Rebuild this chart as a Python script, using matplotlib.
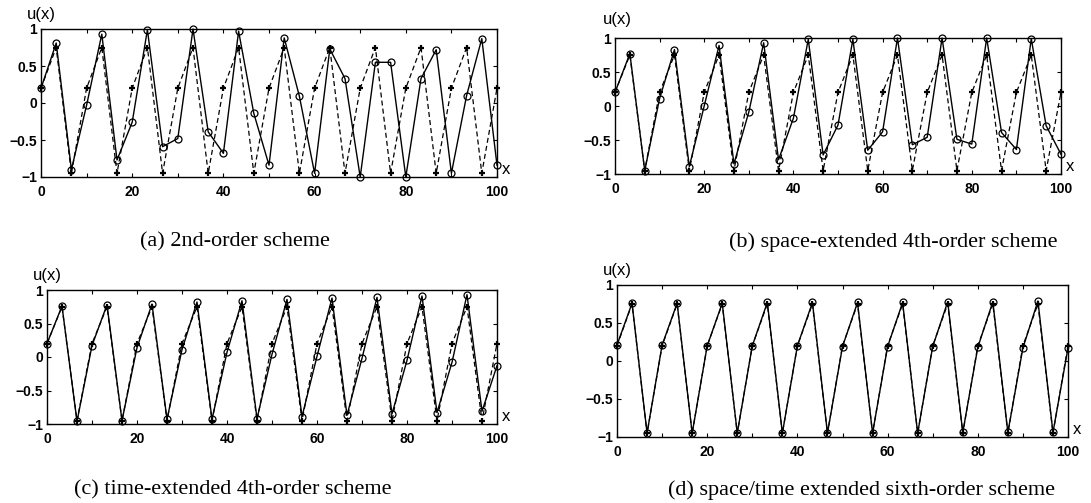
import numpy as np
import matplotlib
matplotlib.use("Agg")
import matplotlib.pyplot as plt
from matplotlib.ticker import MultipleLocator

# ---------------- data ----------------
x_nodes = np.linspace(0, 100, 31)
exact_pattern = [0.2, 0.75, -0.95]
u_exact = [exact_pattern[i % 3] for i in range(31)]

u_a = [0.2, 0.81, -0.9, -0.03, 0.93, -0.77, -0.26, 0.99, -0.59, -0.48,
       1.0, -0.39, -0.68, 0.97, -0.14, -0.84, 0.88, 0.09, -0.95, 0.73,
       0.33, -1.0, 0.55, 0.55, -1.0, 0.33, 0.72, -0.95, 0.1, 0.87, -0.84]
u_b = [0.2, 0.77, -0.95, 0.11, 0.83, -0.89, 0.0, 0.89, -0.85, -0.09,
       0.93, -0.79, -0.18, 0.98, -0.72, -0.28, 0.98, -0.65, -0.38, 1.0,
       -0.57, -0.46, 1.0, -0.49, -0.56, 1.0, -0.39, -0.64, 0.99, -0.29, -0.71]
u_c = [0.2, 0.76, -0.96, 0.17, 0.78, -0.95, 0.14, 0.79, -0.93, 0.11,
       0.82, -0.93, 0.07, 0.84, -0.92, 0.04, 0.86, -0.89, 0.01, 0.88,
       -0.87, -0.02, 0.89, -0.85, -0.05, 0.91, -0.83, -0.08, 0.93, -0.81, -0.13]
u_d = [0.21, 0.76, -0.95, 0.21, 0.76, -0.95, 0.2, 0.76, -0.95, 0.2,
       0.77, -0.95, 0.2, 0.77, -0.95, 0.19, 0.77, -0.95, 0.19, 0.77,
       -0.95, 0.19, 0.78, -0.94, 0.18, 0.78, -0.94, 0.17, 0.79, -0.94, 0.17]

captions = ["(a) 2nd-order scheme",
            "(b) space-extended 4th-order scheme",
            "(c) time-extended 4th-order scheme",
            "(d) space/time extended sixth-order scheme"]
series = [u_a, u_b, u_c, u_d]
xticks = [0, 20, 40, 60, 80, 100]
yticks = [-1, -0.5, 0, 0.5, 1]
ytick_labels = ["\u22121", "\u22120.5", "0", "0.5", "1"]

# ---------------- layout (pixels) ----------------
W, H = 1091, 503
boxes = [(41, 29, 497, 177), (615, 38, 1061, 174),
         (47, 290, 497, 424), (617, 285, 1068, 437)]
ulabel_pos = [(27, 22), (603, 27), (33, 283), (603, 278)]   # left, bottom px
cap_pos = [(235, 242), (893, 242), (233, 490), (862, 490)]

fig = plt.figure(figsize=(W / 100, H / 100), dpi=100)
tick_font = dict(family="Liberation Sans", weight="bold", size=10)

for k, (l, t, r, b) in enumerate(boxes):
    ax = fig.add_axes([l / W, 1 - b / H, (r - l) / W, (b - t) / H])
    ax.plot(x_nodes, u_exact, linestyle=(0, (4, 2.5)), color="black", lw=0.9,
            marker="+", ms=5, mew=1.6, zorder=2, clip_on=False)
    ax.plot(x_nodes, series[k], "-", color="black", lw=1.0,
            marker="o", ms=5, mfc="none", mec="black", mew=0.9, zorder=3,
            clip_on=False)
    ax.set_xlim(0, 100)
    ax.set_ylim(-1, 1)
    ax.set_xticks(xticks)
    ax.xaxis.set_minor_locator(MultipleLocator(10))
    ax.set_yticks(yticks)
    ax.set_xticklabels([str(v) for v in xticks], fontdict=tick_font)
    ax.set_yticklabels(ytick_labels, fontdict=tick_font)
    ax.tick_params(which="both", direction="in", top=True, right=True,
                   length=3, width=0.8)
    ax.tick_params(axis="x", which="major", pad=6)
    ax.tick_params(axis="y", which="major", pad=3)
    for s in ax.spines.values():
        s.set_linewidth(1.0)
    ux, uy = ulabel_pos[k]
    fig.text(ux / W, 1 - uy / H, "u(x)", ha="left", va="bottom",
             family="Liberation Sans", size=12)
    ax.text(1.01, 0.0, "x", transform=ax.transAxes, ha="left", va="bottom",
            family="Liberation Sans", size=12)
    cx, cy = cap_pos[k]
    fig.text(cx / W, 1 - cy / H, captions[k], ha="center", va="center",
             family="Liberation Serif", size=16)

fig.savefig("out.png", dpi=100)
